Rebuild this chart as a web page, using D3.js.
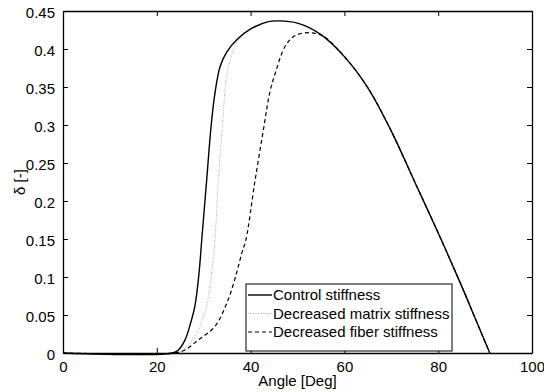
<!DOCTYPE html>
<html><head><meta charset="utf-8">
<script src="https://cdn.jsdelivr.net/npm/d3@7"></script>
<style>
body{margin:0;background:#fff;}
svg text{font-family:"Liberation Sans",Arial,Helvetica,sans-serif;}
</style></head>
<body><svg id="c" width="544" height="392"></svg>
<script>
// Data
const controlAngle = [0, 23.3, 24.6, 26.0, 27.0, 28.1, 29.0, 29.6, 30.6, 31.6, 32.4, 33.5, 34.9, 37.0, 40.2, 43.8, 46.0, 50.0, 55.0, 60.0, 65.0, 70.0, 75.0, 80.0, 85.0, 88.0, 91.0];
const controlDelta = [0, 0, 0.004, 0.017, 0.035, 0.061, 0.105, 0.150, 0.225, 0.300, 0.342, 0.377, 0.396, 0.412, 0.427, 0.436, 0.437, 0.434, 0.419, 0.390, 0.349, 0.292, 0.225, 0.158, 0.088, 0.044, 0];

const matrixAngle = [0, 24.2, 26.0, 28.1, 29.5, 30.6, 31.7, 32.4, 33.1, 34.0, 34.9, 36.3, 37.4, 40.2, 43.8, 46.0, 50.0, 55.0, 60.0, 65.0, 70.0, 75.0, 80.0, 85.0, 88.0, 91.0];
const matrixDelta = [0, 0, 0.006, 0.021, 0.040, 0.061, 0.105, 0.149, 0.225, 0.300, 0.364, 0.399, 0.413, 0.427, 0.436, 0.437, 0.434, 0.419, 0.390, 0.349, 0.292, 0.225, 0.158, 0.088, 0.044, 0];

const fiberAngle = [0, 23.5, 26.0, 28.8, 32.4, 35.2, 37.0, 38.1, 39.0, 40.9, 42.9, 44.1, 45.4, 47.3, 49.1, 51.2, 53.4, 55.5, 60.0, 65.0, 70.0, 75.0, 80.0, 85.0, 88.0, 91.0];
const fiberDelta = [0, 0, 0.004, 0.017, 0.035, 0.070, 0.105, 0.131, 0.149, 0.225, 0.300, 0.343, 0.371, 0.403, 0.416, 0.421, 0.421, 0.417, 0.390, 0.349, 0.292, 0.225, 0.158, 0.088, 0.044, 0];

const xTicks = [0, 20, 40, 60, 80, 100];
const yTicks = [0, 0.05, 0.1, 0.15, 0.2, 0.25, 0.3, 0.35, 0.4, 0.45];
const seriesNames = ["Control stiffness", "Decreased matrix stiffness", "Decreased fiber stiffness"];

const L = 63, R = 532, T = 11, B = 353;
const svg = d3.select("#c");
const x = d3.scaleLinear().domain([0, 100]).range([L, R]);
const y = d3.scaleLinear().domain([0, 0.45]).range([B, T]);

const series = [
  {name: seriesNames[0], a: controlAngle, d: controlDelta, color: "#000", dash: null, w: 1.4},
  {name: seriesNames[1], a: matrixAngle, d: matrixDelta, color: "#aaa", dash: "1,1.5", w: 1},
  {name: seriesNames[2], a: fiberAngle, d: fiberDelta, color: "#000", dash: "4,3", w: 1.2}
];

const line = d3.line().x(p => x(p[0])).y(p => Math.min(y(p[1]), B)).curve(d3.curveCatmullRom.alpha(0.5));

// draw order: matrix, fiber, control on top
[1, 2, 0].forEach(i => {
  const s = series[i];
  const pts = s.a.map((v, k) => [v, s.d[k]]);
  svg.append("path").attr("d", line(pts)).attr("fill", "none")
    .attr("stroke", s.color).attr("stroke-width", s.w)
    .attr("stroke-dasharray", s.dash);
});

// axes
const fs = "15px";
const gx = svg.append("g").attr("transform", `translate(0,${B})`)
  .call(d3.axisBottom(x).tickValues(xTicks).tickFormat(d3.format("d")).tickSizeInner(-5).tickSizeOuter(0).tickPadding(8));
const gy = svg.append("g").attr("transform", `translate(${L},0)`)
  .call(d3.axisLeft(y).tickValues(yTicks).tickFormat(d => d === 0 ? "0" : String(+d.toFixed(2))).tickSizeInner(-5).tickSizeOuter(0).tickPadding(8));
const gt = svg.append("g").attr("transform", `translate(0,${T})`)
  .call(d3.axisTop(x).tickValues(xTicks).tickFormat("").tickSizeInner(-5).tickSizeOuter(0));
const gr = svg.append("g").attr("transform", `translate(${R},0)`)
  .call(d3.axisRight(y).tickValues(yTicks).tickFormat("").tickSizeInner(-5).tickSizeOuter(0));
[gx, gy, gt, gr].forEach(g => {
  g.selectAll(".domain").attr("stroke", "#000").attr("stroke-width", 1.3);
  g.selectAll(".tick line").attr("stroke", "#000");
  g.selectAll("text").attr("fill", "#000").style("font-size", fs);
});
gy.selectAll(".tick text").attr("dy", "0.4em");

svg.append("text").attr("x", (L + R) / 2).attr("y", 386).attr("text-anchor", "middle")
  .style("font-size", fs).text("Angle [Deg]");
svg.append("text").attr("transform", `translate(25,${(T + B) / 2}) rotate(-90)`)
  .attr("text-anchor", "middle").style("font-size", fs).text("δ [-]");

// legend
const lg = svg.append("g");
lg.append("rect").attr("x", 246).attr("y", 284).attr("width", 206).attr("height", 67)
  .attr("fill", "#fff").attr("stroke", "#000").attr("stroke-width", 1);
series.forEach((s, i) => {
  const yy = 295 + i * 18.5;
  lg.append("line").attr("x1", 248).attr("x2", 272).attr("y1", yy).attr("y2", yy)
    .attr("stroke", s.color).attr("stroke-width", s.w).attr("stroke-dasharray", s.dash);
  lg.append("text").attr("x", 273).attr("y", yy + 5).style("font-size", fs).text(s.name);
});
</script></body></html>
